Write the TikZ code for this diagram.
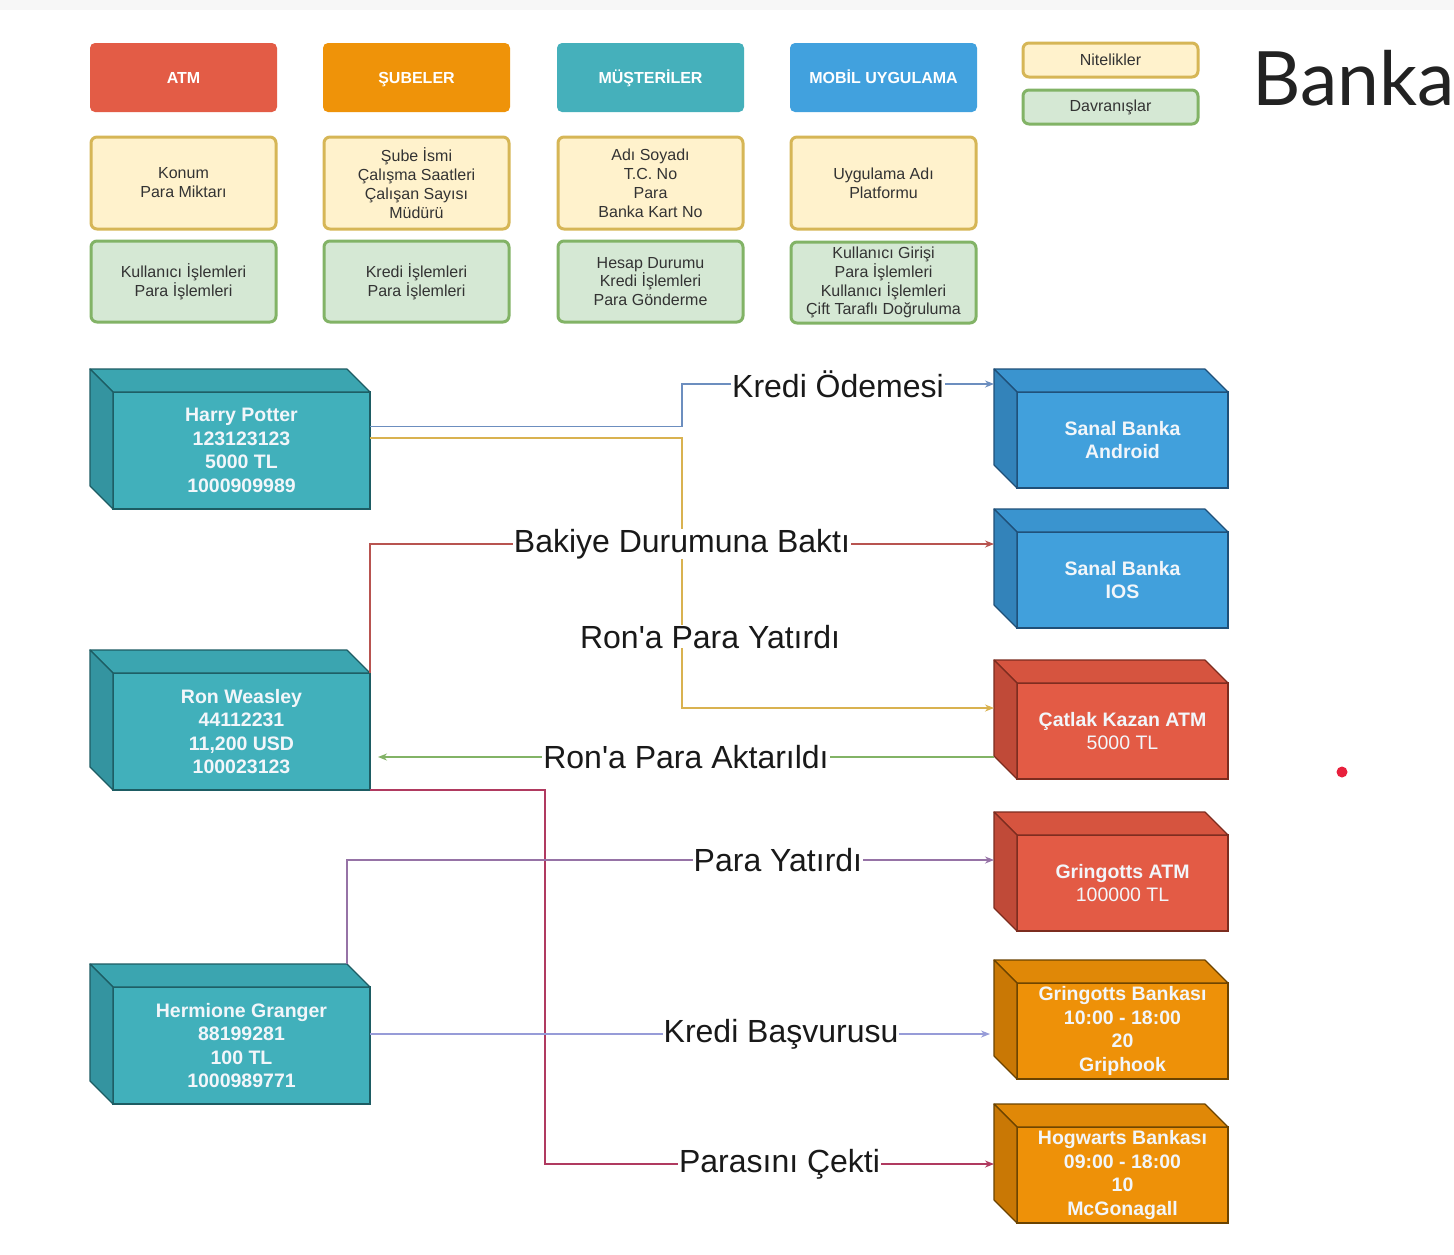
\documentclass[tikz,border=0pt]{standalone}
\usepackage{fontspec}
\setmainfont{Liberation Sans}[Ligatures=TeXOff]
\newfontfamily\titlefont{Lato}
\usetikzlibrary{calc,arrows.meta}

\definecolor{cAtm}{HTML}{E35C46}
\definecolor{cSube}{HTML}{EF9309}
\definecolor{cMus}{HTML}{45B0BB}
\definecolor{cMob}{HTML}{41A1DE}
\definecolor{yelF}{HTML}{FFF2CC}
\definecolor{yelE}{HTML}{D6B656}
\definecolor{grnF}{HTML}{D5E8D4}
\definecolor{grnE}{HTML}{82B366}
\definecolor{txtC}{HTML}{333333}
\definecolor{stripC}{HTML}{F7F7F7}
\definecolor{titleC}{HTML}{222222}
\definecolor{dotC}{HTML}{E8203C}
\definecolor{cubeTxt}{HTML}{F2F6FA}

\definecolor{tealF}{HTML}{41B0BB}
\definecolor{tealT}{HTML}{3BA5B0}
\definecolor{tealL}{HTML}{3494A0}
\definecolor{tealE}{HTML}{1D5C63}
\definecolor{blueF}{HTML}{41A0DC}
\definecolor{blueT}{HTML}{3A94CF}
\definecolor{blueL}{HTML}{3383BA}
\definecolor{blueE}{HTML}{1F4F78}
\definecolor{redF}{HTML}{E35B45}
\definecolor{redT}{HTML}{D6543F}
\definecolor{redL}{HTML}{C04A38}
\definecolor{redE}{HTML}{7C2C1F}
\definecolor{orgF}{HTML}{EE9108}
\definecolor{orgT}{HTML}{E08807}
\definecolor{orgL}{HTML}{C97805}
\definecolor{orgE}{HTML}{6B4300}

\definecolor{lnBlue}{HTML}{6C8EBF}
\definecolor{lnYel}{HTML}{D9B250}
\definecolor{lnRed}{HTML}{B85450}
\definecolor{lnGrn}{HTML}{82B366}
\definecolor{lnMag}{HTML}{B03A60}
\definecolor{lnPur}{HTML}{9673A6}
\definecolor{lnLav}{HTML}{979CD8}

\newcommand\mkcube[7]{%
  \node[cubefront, fill=#6F, draw=#6E, minimum width=#4, minimum height=#5, anchor=north west] (#1) at (#2,#3) {#7};
  \filldraw[fill=#6T, draw=#6E, line width=1.2pt, line join=round] (#1.north west) -- ++(-23,-23) -- ($(#1.north east)+(-23,-23)$) -- (#1.north east) -- cycle;
  \filldraw[fill=#6L, draw=#6E, line width=1.2pt, line join=round] (#1.north west) -- ++(-23,-23) -- ($(#1.south west)+(-23,-23)$) -- (#1.south west) -- cycle;
}

\begin{document}
\begin{tikzpicture}[x=1pt,y=-1pt,
  hdr/.style={rounded corners=5pt, minimum width=187, minimum height=69, text=white,
    font=\fontsize{16}{19}\selectfont\bfseries, inner sep=0pt, outer sep=0pt,
    text height=11.5pt, text depth=0pt},
  attrbox/.style={fill=yelF, draw=yelE, line width=3pt, rounded corners=6pt, minimum width=185,
    minimum height=92, align=center, font=\fontsize{16}{19}\selectfont, text=txtC, inner sep=0pt, outer sep=0pt},
  behbox/.style={fill=grnF, draw=grnE, line width=3pt, rounded corners=6pt, minimum width=185,
    minimum height=81, align=center, font=\fontsize{16}{18.8}\selectfont, text=txtC, inner sep=0pt, outer sep=0pt},
  cubefront/.style={line width=1.2pt, align=center, text=cubeTxt, inner sep=0pt, outer sep=0pt,
    font=\fontsize{19.5}{23.5}\selectfont\bfseries},
  conn/.style={line width=1.3pt, -{Stealth[length=9pt,width=7pt]}},
  lbl/.style={fill=white, inner xsep=1pt, inner ysep=0pt, text=black!90, font=\fontsize{32}{36}\selectfont},
]
\useasboundingbox (0,0) rectangle (1454,1254);
\fill[white] (0,0) rectangle (1454,1254);
\fill[stripC] (0,0) rectangle (1454,10);

% headers
\node[hdr, fill=cAtm] (hAtm) at (183.5,77.5) {ATM};
\node[hdr, fill=cSube] (hSube) at (416.5,77.5) {ŞUBELER};
\node[hdr, fill=cMus] (hMus) at (650.5,77.5) {MÜŞTERİLER};
\node[hdr, fill=cMob] (hMob) at (883.5,77.5) {MOBİL UYGULAMA};

% attributes
\node[attrbox] (aAtm) at (183.5,183) {Konum\\Para Miktarı};
\node[attrbox] (aSube) at (416.5,183) {Şube İsmi\\Çalışma Saatleri\\Çalışan Sayısı\\Müdürü};
\node[attrbox] (aMus) at (650.5,183) {Adı Soyadı\\T.C. No\\Para\\Banka Kart No};
\node[attrbox] (aMob) at (883.5,183) {Uygulama Adı\\Platformu};

% behaviours
\node[behbox] (bAtm) at (183.5,281.5) {Kullanıcı İşlemleri\\Para İşlemleri};
\node[behbox] (bSube) at (416.5,281.5) {Kredi İşlemleri\\Para İşlemleri};
\node[behbox] (bMus) at (650.5,281.5) {Hesap Durumu\\Kredi İşlemleri\\Para Gönderme};
\node[behbox] (bMob) at (883.5,282.5) {Kullanıcı Girişi\\Para İşlemleri\\Kullanıcı İşlemleri\\Çift Taraflı Doğruluma};

% legend
\node[attrbox, minimum width=175, minimum height=34] (legA) at (1110.5,60) {Nitelikler};
\node[behbox, minimum width=175, minimum height=34] (legB) at (1110.5,107) {Davranışlar};

% title
\node[anchor=base west, inner sep=0pt, text=titleC, font=\titlefont\fontsize{75}{80}\selectfont] (title) at (1252,105) {Banka};

% cubes
\mkcube{hp}{113}{392}{257}{117}{teal}{Harry Potter\\123123123\\5000 TL\\1000909989}
\mkcube{ron}{113}{673}{257}{117}{teal}{Ron Weasley\\44112231\\11,200 USD\\100023123}
\mkcube{her}{113}{987}{257}{117}{teal}{Hermione Granger\\88199281\\100 TL\\1000989771}
\mkcube{and}{1017}{392}{211}{96}{blue}{Sanal Banka\\Android}
\mkcube{ios}{1017}{532}{211}{96}{blue}{Sanal Banka\\IOS}
\mkcube{ck}{1017}{683}{211}{96}{red}{Çatlak Kazan ATM\\{\mdseries 5000 TL}}
\mkcube{ga}{1017}{835}{211}{96}{red}{Gringotts ATM\\{\mdseries 100000 TL}}
\mkcube{gb}{1017}{983}{211}{96}{org}{Gringotts Bankası\\10:00 - 18:00\\20\\Griphook}
\mkcube{hog}{1017}{1127}{211}{96}{org}{Hogwarts Bankası\\09:00 - 18:00\\10\\McGonagall}

% connectors
\draw[conn, lnBlue] ($(hp.east)+(0,-24)$) -- ++(312,0) |- ($(and.west)+(-23,-56)$)
  node[lbl, pos=0.75] {Kredi Ödemesi};
\draw[conn, lnYel] ($(hp.east)+(0,-12.5)$) -- ++(312,0) |- ($(ck.west)+(-23,-23)$)
  node[lbl, pos=0.368, xshift=28pt] {Ron'a Para Yatırdı};
\draw[conn, lnRed] (ron.north east) |- ($(ios.west)+(-23,-36)$)
  node[lbl, pos=0.75] {Bakiye Durumuna Baktı};
\draw[conn, lnGrn] ($(ck.west)+(-23,26)$) -- ($(ron.east)+(8,25.5)$)
  node[lbl, midway] {Ron'a Para Aktarıldı};
\draw[conn, lnMag] (ron.south east) -- ++(175,0) |- ($(hog.west)+(-23,-11)$)
  node[lbl, pos=0.75, xshift=10pt] {Parasını Çekti};
\draw[conn, lnPur] ($(her.north east)+(-23,-23)$) |- ($(ga.west)+(-23,-23)$)
  node[lbl, pos=0.833] {Para Yatırdı};
\draw[conn, lnLav] ($(her.east)+(0,-11.5)$) -- ($(gb.west)+(-27,3)$)
  node[lbl, pos=0.663] {Kredi Başvurusu};

% red dot
\node[circle, fill=dotC, minimum size=11, inner sep=0pt] (dot) at (1342,772) {};
\end{tikzpicture}
\end{document}
